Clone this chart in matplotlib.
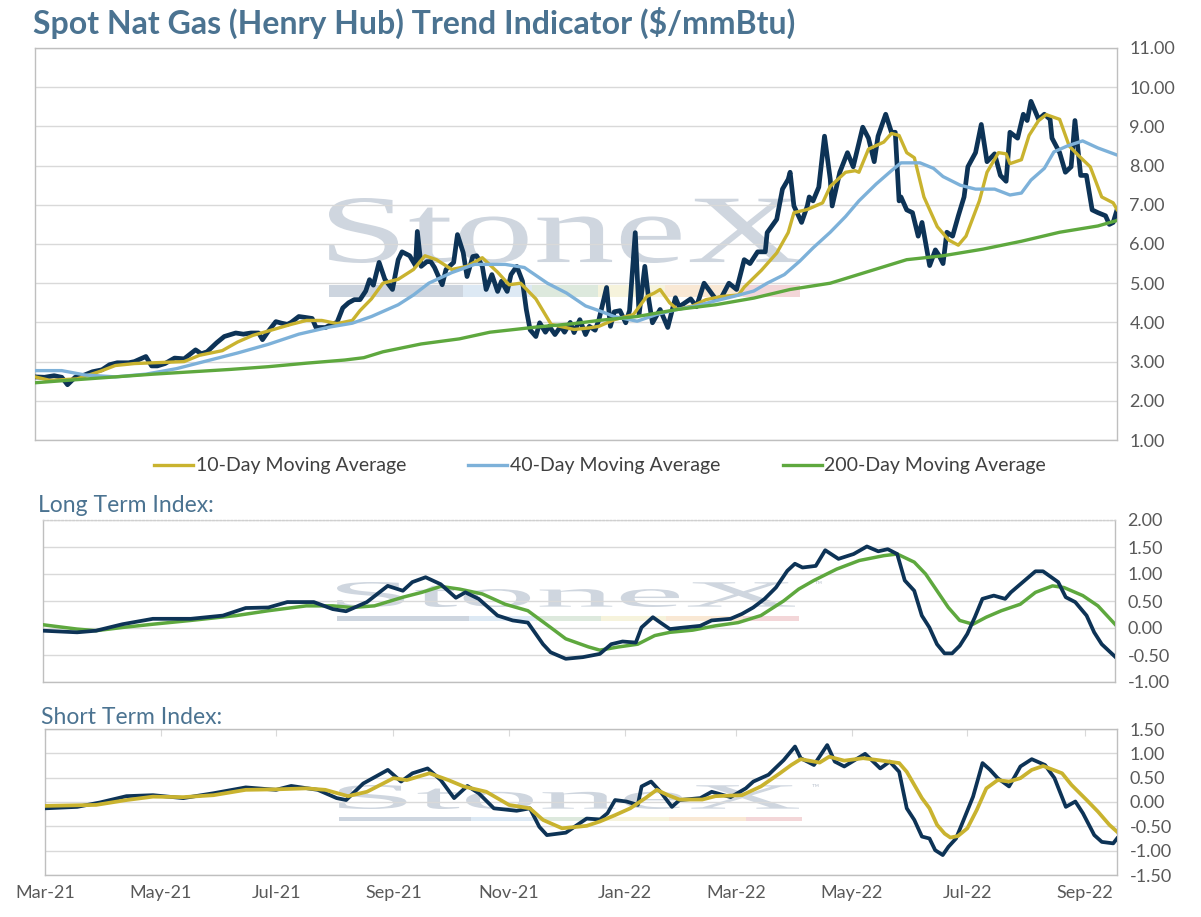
import numpy as np
import matplotlib
matplotlib.use('Agg')
import matplotlib.pyplot as plt
import matplotlib.dates as mdates
from matplotlib.textpath import TextPath
from matplotlib.font_manager import FontProperties
from matplotlib.patches import PathPatch, Rectangle
from matplotlib.transforms import Affine2D

plt.rcParams['font.family'] = ['Lato', 'DejaVu Sans']

# x values are days counted from 1 Mar 2021
start_date = '2021-03-01'

# Spot price
price_days = [0, 5, 10, 14, 17, 21, 26, 30, 35, 39,
              43, 49, 52, 58, 61, 64, 68, 73, 78, 84,
              87, 90, 95, 99, 105, 109, 113, 117, 119, 122,
              126, 129, 132, 134, 138, 141, 145, 147, 152, 155,
              158, 161, 164, 167, 170, 173, 175, 177, 180, 183,
              187, 190, 192, 196, 199, 200, 202, 205, 207, 209,
              213, 215, 219, 221, 224, 226, 229, 231, 234, 236,
              239, 242, 244, 247, 249, 252, 255, 257, 259, 262,
              264, 267, 269, 272, 275, 277, 280, 282, 285, 288,
              290, 293, 295, 299, 301, 303, 306, 309, 311, 314,
              316, 319, 321, 323, 327,
              331, 335, 337, 343, 346, 350,
              356, 359, 363, 367, 371, 374, 378, 382, 383, 388,
              391, 394, 395, 397, 401, 404, 405, 407, 410, 413,
              416, 417, 421, 425, 428, 433, 436, 439, 441, 445,
              448, 450, 452, 453, 456, 459, 462, 464, 468, 471,
              473, 475, 477, 480, 483, 486, 488, 492, 495, 498,
              502, 505, 508, 510, 514, 517, 519, 521, 525, 528,
              531, 532, 536, 539, 542, 544, 547, 550, 553, 556,
              560, 562, 564, 566]
price = [2.61, 2.60, 2.64, 2.60, 2.41, 2.60, 2.66, 2.74, 2.79, 2.92,
         2.97, 2.97, 3.00, 3.13, 2.89, 2.89, 2.95, 3.09, 3.07, 3.30,
         3.20, 3.25, 3.48, 3.64, 3.73, 3.70, 3.73, 3.73, 3.56, 3.77,
         4.02, 3.98, 3.95, 4.00, 4.15, 4.13, 4.10, 3.87, 3.87, 3.95,
         4.00, 4.37, 4.50, 4.58, 4.58, 4.80, 5.09, 4.95, 5.53, 5.10,
         4.84, 5.60, 5.80, 5.70, 5.45, 6.32, 5.43, 5.55, 5.55, 5.40,
         4.96, 5.35, 5.53, 6.24, 5.78, 5.17, 5.68, 5.70, 5.43, 4.84,
         5.22, 4.79, 5.05, 4.79, 5.22, 5.43, 5.05, 4.33, 3.81, 3.64,
         3.99, 3.75, 3.90, 3.69, 3.90, 3.75, 4.00, 3.74, 4.07, 3.69,
         3.90, 3.80, 4.07, 4.89, 3.90, 4.27, 4.30, 3.99, 4.30, 6.29,
         4.20, 5.43, 4.60, 3.99, 4.33,
         3.87, 4.63, 4.40, 4.60, 4.40, 5.00,
         4.60, 4.63, 5.00, 4.84, 5.60, 5.50, 5.80, 5.80, 6.29, 6.63,
         7.40, 7.65, 7.83, 6.97, 6.55, 6.97, 7.20, 7.10, 7.45, 8.75,
         7.65, 6.97, 7.83, 8.33, 7.97, 8.98, 8.70, 8.10, 8.75, 9.31,
         8.85, 8.85, 7.10, 7.20, 6.87, 6.80, 6.20, 6.55, 5.45, 5.85,
         5.70, 5.50, 6.30, 6.20, 6.72, 7.20, 7.97, 8.33, 9.05, 8.10,
         8.30, 7.75, 7.60, 8.85, 8.70, 9.31, 9.15, 9.64, 9.18, 9.31,
         9.18, 8.70, 8.33, 7.83, 7.97, 9.15, 7.75, 7.75, 6.87, 6.80,
         6.72, 6.50, 6.55, 6.87]

# 10-day moving average
ma10_days = [0, 8, 22, 34, 42, 52, 62, 78, 86, 98,
             106, 114, 122, 134, 142, 150, 158, 166, 170, 176,
             182, 190, 198, 204, 210, 218, 226, 234, 242, 248,
             254, 262, 270, 282, 290, 295, 303, 313, 320, 324,
             327, 332, 336, 344, 351, 359, 368, 371, 380, 388,
             394, 397, 404, 412, 416, 424, 429, 431, 436, 444,
             448, 452, 456, 460, 465, 472, 478, 483, 487, 494,
             498, 504, 508, 510, 516, 520, 525, 529, 536, 541,
             546, 552, 558, 564, 566]
ma10 = [2.61, 2.52, 2.56, 2.75, 2.90, 2.95, 2.97, 3.00, 3.16, 3.28,
        3.50, 3.67, 3.78, 3.95, 4.05, 4.05, 3.97, 4.05, 4.30, 4.60,
        5.00, 5.10, 5.35, 5.70, 5.60, 5.35, 5.43, 5.65, 5.28, 4.96,
        5.00, 4.60, 3.95, 3.82, 3.86, 3.90, 4.07, 4.20, 4.66, 4.75,
        4.84, 4.50, 4.33, 4.42, 4.58, 4.66, 4.70, 4.90, 5.33, 5.77,
        6.29, 6.80, 6.88, 7.05, 7.47, 7.83, 7.87, 7.83, 8.42, 8.60,
        8.82, 8.77, 8.33, 8.20, 7.20, 6.44, 6.10, 5.97, 6.20, 7.10,
        7.83, 8.33, 8.30, 8.05, 8.15, 8.77, 9.15, 9.30, 9.18, 8.50,
        8.25, 7.97, 7.20, 7.05, 6.88]

# 40-day moving average
ma40_days = [0, 14, 26, 42, 58, 74, 90, 106, 122, 138,
             154, 166, 176, 190, 198, 206, 218, 230, 246, 256,
             268, 278, 288, 295, 303, 315, 325, 336, 346, 356,
             366, 376, 383, 392, 400, 407, 416, 424, 431, 440,
             448, 453, 463, 470, 475, 484, 492, 502, 510, 516,
             521, 528, 533, 540, 548, 556, 566]
ma40 = [2.77, 2.77, 2.66, 2.61, 2.68, 2.82, 3.02, 3.22, 3.44, 3.70,
        3.88, 3.98, 4.15, 4.45, 4.70, 5.00, 5.27, 5.48, 5.48, 5.40,
        5.00, 4.75, 4.42, 4.30, 4.15, 4.03, 4.20, 4.33, 4.42, 4.55,
        4.67, 4.80, 5.00, 5.22, 5.56, 5.90, 6.30, 6.70, 7.10, 7.53,
        7.87, 8.07, 8.07, 7.93, 7.72, 7.50, 7.40, 7.40, 7.25, 7.30,
        7.63, 7.93, 8.35, 8.50, 8.63, 8.45, 8.27]

# 200-day moving average
ma200_days = [0, 22, 42, 62, 82, 102, 122, 142, 162, 172,
              182, 202, 222, 238, 262, 282, 295, 315, 336, 356,
              376, 395, 416, 436, 456, 475, 496, 516, 536, 556,
              566]
ma200 = [2.46, 2.54, 2.61, 2.68, 2.74, 2.80, 2.87, 2.96, 3.04, 3.10,
         3.25, 3.45, 3.58, 3.75, 3.88, 3.97, 4.05, 4.15, 4.33, 4.45,
         4.62, 4.84, 5.00, 5.30, 5.60, 5.70, 5.87, 6.07, 6.30, 6.46,
         6.60]

# Long term index
lt_days = [0, 18, 28, 42, 58, 78, 95, 107, 119, 129,
           143, 153, 160, 171, 182, 190, 195, 202, 210, 218,
           223, 230, 240, 248, 256, 264, 268, 276, 285, 294,
           300, 306, 313, 316, 322, 326, 331, 336, 347, 353,
           363, 369, 375, 381, 387, 393, 397, 401, 408, 413,
           420, 428, 435, 441, 446, 451, 455, 460, 464, 468,
           472, 476, 480, 484, 488, 492, 496, 502, 508, 511,
           516, 524, 528, 536, 540, 545, 551, 555, 559, 566]
lt_index = [-0.05, -0.08, -0.05, 0.07, 0.17, 0.17, 0.23, 0.37, 0.38, 0.48,
            0.48, 0.35, 0.31, 0.48, 0.78, 0.69, 0.85, 0.94, 0.81, 0.56,
            0.66, 0.54, 0.23, 0.14, 0.10, -0.30, -0.45, -0.57, -0.54, -0.48,
            -0.30, -0.25, -0.27, 0.01, 0.20, 0.10, -0.02, 0.00, 0.04, 0.14,
            0.17, 0.26, 0.38, 0.54, 0.75, 1.06, 1.19, 1.12, 1.15, 1.44,
            1.28, 1.37, 1.51, 1.42, 1.46, 1.37, 0.88, 0.69, 0.23, 0.01,
            -0.30, -0.47, -0.47, -0.33, -0.11, 0.20, 0.54, 0.60, 0.54, 0.66,
            0.81, 1.05, 1.05, 0.85, 0.57, 0.48, 0.23, -0.08, -0.30, -0.53]

lt_avg_days = [0, 18, 28, 42, 58, 78, 102, 119, 139, 153,
               163, 175, 190, 200, 210, 220, 232, 244, 256, 268,
               276, 288, 294, 304, 314, 323, 331, 343, 355, 367,
               379, 391, 399, 407, 419, 431, 444, 451, 460, 466,
               472, 478, 484, 491, 498, 506, 516, 524, 533, 539,
               549, 557, 566]
lt_avg = [0.06, -0.02, -0.05, 0.01, 0.07, 0.14, 0.23, 0.32, 0.41, 0.41,
          0.38, 0.41, 0.57, 0.66, 0.77, 0.72, 0.63, 0.44, 0.32, 0.01,
          -0.20, -0.35, -0.41, -0.35, -0.30, -0.14, -0.08, -0.04, 0.04, 0.10,
          0.23, 0.50, 0.72, 0.88, 1.09, 1.25, 1.34, 1.37, 1.22, 1.00,
          0.69, 0.38, 0.14, 0.07, 0.20, 0.32, 0.44, 0.66, 0.78, 0.75,
          0.60, 0.41, 0.07]

# Short term index
st_days = [0, 17, 29, 43, 57, 73, 89, 106, 122, 130,
           144, 154, 159, 168, 181, 188, 194, 202, 209, 216,
           223, 229, 237, 249, 256, 261, 265, 275, 286, 293,
           297, 301, 307, 313, 315, 320, 325, 331, 335, 346,
           352, 362, 370, 374, 382, 390, 396, 399, 406, 413,
           417, 422, 433, 441, 446, 451, 455, 459, 463, 467,
           470, 474, 477, 481, 485, 490, 495, 499, 503, 509,
           512, 515, 521, 528, 533, 539, 544, 548, 554, 558,
           564, 566]
st_index = [-0.13, -0.10, -0.01, 0.12, 0.14, 0.08, 0.18, 0.30, 0.25, 0.33,
            0.25, 0.08, 0.04, 0.38, 0.66, 0.42, 0.59, 0.69, 0.45, 0.08,
            0.33, 0.18, -0.13, -0.18, -0.13, -0.51, -0.68, -0.63, -0.34, -0.36,
            -0.23, 0.04, 0.01, -0.06, 0.32, 0.42, 0.21, -0.10, 0.04, 0.08,
            0.21, 0.10, 0.28, 0.42, 0.56, 0.86, 1.14, 0.90, 0.76, 1.17,
            0.83, 0.73, 0.99, 0.69, 0.83, 0.62, -0.13, -0.37, -0.71, -0.75,
            -0.99, -1.09, -0.92, -0.75, -0.37, 0.11, 0.80, 0.66, 0.49, 0.32,
            0.52, 0.73, 0.88, 0.76, 0.49, -0.10, 0.01, -0.23, -0.68, -0.82,
            -0.85, -0.75]

st_avg_days = [0, 27, 43, 57, 73, 89, 106, 122, 138, 148,
               160, 170, 184, 191, 203, 213, 221, 233, 245, 256,
               263, 273, 286, 293, 301, 309, 317, 323, 329, 335,
               347, 354, 368, 378, 388, 394, 399, 409, 414, 422,
               432, 440, 451, 455, 459, 463, 467, 471, 475, 478,
               482, 487, 492, 497, 503, 509, 515, 521, 527, 537,
               542, 550, 556, 562, 566]
st_avg = [-0.08, -0.06, 0.04, 0.11, 0.10, 0.14, 0.25, 0.26, 0.28, 0.25,
          0.12, 0.21, 0.49, 0.45, 0.59, 0.45, 0.32, 0.21, -0.06, -0.13,
          -0.37, -0.54, -0.49, -0.40, -0.27, -0.13, 0.08, 0.25, 0.14, 0.05,
          0.05, 0.12, 0.14, 0.32, 0.59, 0.76, 0.88, 0.81, 0.93, 0.85,
          0.90, 0.86, 0.80, 0.62, 0.35, 0.08, -0.13, -0.47, -0.65, -0.73,
          -0.70, -0.54, -0.16, 0.28, 0.45, 0.42, 0.49, 0.66, 0.74, 0.59,
          0.35, 0.04, -0.20, -0.47, -0.61]

legend_labels = ['10-Day Moving Average', '40-Day Moving Average', '200-Day Moving Average']

NAVY = '#0d3356'
GOLD = '#c9b32f'
BLUE = '#7db1d9'
GREEN = '#5ea83e'
TITLE_COL = '#4b7391'
TEXT_COL = '#595959'
GRID_COL = '#d9d9d9'
EDGE_COL = '#bfbfbf'

W, H = 1201, 917


def to_dates(days):
    return np.datetime64(start_date) + np.array(days, dtype='timedelta64[D]')


def pix_box(l, t, r, b):
    return [l / W, 1 - b / H, (r - l) / W, (b - t) / H]


fig = plt.figure(figsize=(W / 100, H / 100), dpi=100)
fig.patch.set_facecolor('white')

# pixel coordinates with origin at top-left
pix = Affine2D().scale(1 / W, -1 / H).translate(0, 1) + fig.transFigure


def watermark(ax, left, top, right, base, bar_top, bar_bot, bar_right, tm_xy):
    tp = TextPath((0, 0), 'StoneX', size=100, prop=FontProperties(family='Liberation Serif'))
    bb = tp.get_extents()
    sx = (right - left) / bb.width
    sy = (base - top) / bb.height
    tr = Affine2D().translate(-bb.x0, -bb.y0).scale(sx, -sy).translate(left, base) + pix
    ax.add_artist(PathPatch(tp, transform=tr, facecolor='#cfd6df', edgecolor='none', zorder=0.5))
    cuts = [0, 0.285, 0.431, 0.571, 0.713, 0.878, 1.0]
    cols = ['#cdd5df', '#dde9f4', '#dde9dd', '#f6f3dc', '#f9e8d4', '#f3d6d8']
    span = bar_right - left
    for i, c in enumerate(cols):
        x0 = left + cuts[i] * span
        x1 = left + cuts[i + 1] * span
        ax.add_artist(Rectangle((x0, bar_top), x1 - x0, bar_bot - bar_top, transform=pix,
                                facecolor=c, edgecolor='none', zorder=0.5))
    ax.text(tm_xy[0], tm_xy[1], '\u2122', transform=pix, fontsize=7, color='#c5ccd6',
            ha='left', va='center', zorder=0.5)


def style_axes(ax, ylim, yticks):
    ax.set_xlim(to_dates([0])[0], to_dates([566])[0])
    ax.set_ylim(*ylim)
    ax.set_yticks(yticks)
    ax.set_yticklabels(['{:.2f}'.format(v) for v in yticks])
    ax.yaxis.tick_right()
    ax.tick_params(axis='y', length=0, pad=9, labelsize=13, labelcolor=TEXT_COL)
    ax.grid(axis='y', color=GRID_COL, lw=1)
    ax.grid(axis='x', visible=False)
    for s in ax.spines.values():
        s.set_color(EDGE_COL)
        s.set_linewidth(1)


# ---- top panel: price and moving averages ----
ax1 = fig.add_axes(pix_box(35, 48, 1117, 440))
watermark(ax1, 329, 198, 800, 263, 285, 297, 800, (816, 207))
ax1.plot(to_dates(price_days), price, color=NAVY, lw=3.4, zorder=3)
l10, = ax1.plot(to_dates(ma10_days), ma10, color=GOLD, lw=2.4, zorder=4)
l40, = ax1.plot(to_dates(ma40_days), ma40, color=BLUE, lw=2.4, zorder=4)
l200, = ax1.plot(to_dates(ma200_days), ma200, color=GREEN, lw=2.4, zorder=4)
style_axes(ax1, (1, 11), np.arange(1, 12, 1.0))
ax1.set_xticks([])

fig.legend([l10, l40, l200], legend_labels, loc='center', bbox_to_anchor=(600 / W, 1 - 466 / H),
           ncol=3, frameon=False, fontsize=14, handlelength=2.0, handletextpad=0.15,
           columnspacing=3.2, labelcolor='#404040')

# ---- middle panel: long term index ----
ax2 = fig.add_axes(pix_box(43, 520, 1115, 682))
watermark(ax2, 337, 582, 795, 607, 616, 621, 799, (815, 585))
ax2.plot(to_dates(lt_avg_days), lt_avg, color=GREEN, lw=2.5, zorder=3)
ax2.plot(to_dates(lt_days), lt_index, color=NAVY, lw=2.7, zorder=4)
style_axes(ax2, (-1, 2), np.arange(-1, 2.01, 0.5)[::-1])
ax2.set_xticks([])
ax2.spines['top'].set_linestyle(':')
ax2.spines['top'].set_color('#cfcfcf')

# ---- bottom panel: short term index ----
ax3 = fig.add_axes(pix_box(45, 729, 1117, 875))
watermark(ax3, 339, 785, 799, 809, 817, 821, 802, (812, 788))
ax3.plot(to_dates(st_days), st_index, color=NAVY, lw=2.7, zorder=3)
ax3.plot(to_dates(st_avg_days), st_avg, color=GOLD, lw=2.7, zorder=4)
style_axes(ax3, (-1.5, 1.5), np.arange(-1.5, 1.51, 0.5)[::-1])
ax3.xaxis.set_major_locator(mdates.MonthLocator(bymonth=[1, 3, 5, 7, 9, 11]))
ax3.xaxis.set_major_formatter(mdates.DateFormatter('%b-%y'))
ax3.tick_params(axis='x', bottom=False, top=True, labelbottom=True, labeltop=False,
                direction='in', length=5, color=GRID_COL, pad=7, labelsize=13, labelcolor=TEXT_COL)

# ---- titles ----
fig.text(33 / W, 1 - 23 / H, 'Spot Nat Gas (Henry Hub) Trend Indicator ($/mmBtu)',
         fontsize=23, fontweight='bold', color=TITLE_COL, ha='left', va='center')
fig.text(38 / W, 1 - 506 / H, 'Long Term Index:', fontsize=16.5, color=TITLE_COL,
         ha='left', va='center')
fig.text(41 / W, 1 - 717 / H, 'Short Term Index:', fontsize=16.5, color=TITLE_COL,
         ha='left', va='center')

fig.savefig('out.png', dpi=100, facecolor='white')
